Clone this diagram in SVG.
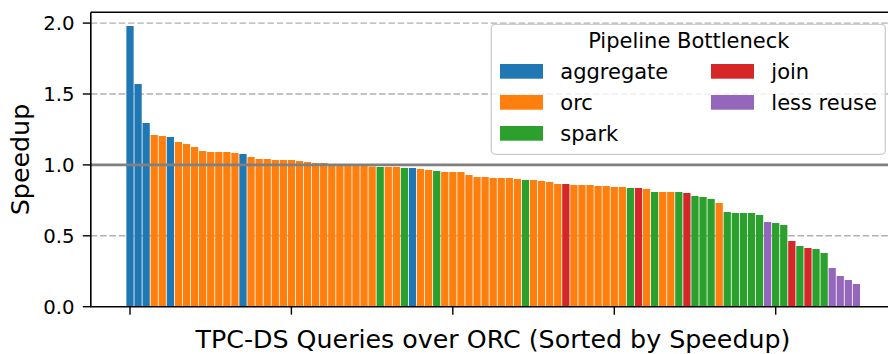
<svg xmlns="http://www.w3.org/2000/svg" width="888" height="354" viewBox="0 0 888 354">
  <style>
    text { font-family: "DejaVu Sans", "Liberation Sans", sans-serif; fill: #000; }
    .tick { font-size: 19.7px; }
    .lab { font-size: 25.3px; }
    .leg { font-size: 21px; }
    .grid { stroke: #b0b0b0; stroke-width: 1.4; stroke-dasharray: 6.5 2.8; fill: none; }
    .spine { stroke: #000; stroke-width: 1.6; fill: none; }
    .tk { stroke: #000; stroke-width: 1.4; }
    .agg { fill: #1f77b4; }
    .orc { fill: #ff7f0e; }
    .spark { fill: #2ca02c; }
    .join { fill: #d62728; }
    .less { fill: #9467bd; }
  </style>

  <rect x="0" y="0" width="888" height="354" fill="#fff"/>

  <!-- horizontal grid -->
  <g id="grid">
    <line class="grid" x1="90.8" y1="23.1" x2="888" y2="23.1"/>
    <line class="grid" x1="90.8" y1="94.0" x2="888" y2="94.0"/>
    <line class="grid" x1="90.8" y1="164.9" x2="888" y2="164.9"/>
    <line class="grid" x1="90.8" y1="235.8" x2="888" y2="235.8"/>
  </g>

  <!-- speedup bars, one per query, sorted -->
  <g id="bars">
    <rect class="agg" x="126.37" y="26" width="7.26" height="280.7"/>
    <rect class="agg" x="134.44" y="84" width="7.26" height="222.7"/>
    <rect class="agg" x="142.51" y="123" width="7.26" height="183.7"/>
    <rect class="orc" x="150.58" y="135" width="7.26" height="171.7"/>
    <rect class="orc" x="158.65" y="136" width="7.26" height="170.7"/>
    <rect class="agg" x="166.73" y="137" width="7.26" height="169.7"/>
    <rect class="orc" x="174.80" y="142" width="7.26" height="164.7"/>
    <rect class="orc" x="182.87" y="144" width="7.26" height="162.7"/>
    <rect class="orc" x="190.94" y="147" width="7.26" height="159.7"/>
    <rect class="orc" x="199.01" y="151" width="7.26" height="155.7"/>
    <rect class="orc" x="207.08" y="152" width="7.26" height="154.7"/>
    <rect class="orc" x="215.15" y="152" width="7.26" height="154.7"/>
    <rect class="orc" x="223.22" y="152" width="7.26" height="154.7"/>
    <rect class="orc" x="231.29" y="153" width="7.26" height="153.7"/>
    <rect class="agg" x="239.36" y="154" width="7.26" height="152.7"/>
    <rect class="orc" x="247.44" y="157" width="7.26" height="149.7"/>
    <rect class="orc" x="255.51" y="159" width="7.26" height="147.7"/>
    <rect class="orc" x="263.58" y="159" width="7.26" height="147.7"/>
    <rect class="orc" x="271.65" y="160" width="7.26" height="146.7"/>
    <rect class="orc" x="279.72" y="160" width="7.26" height="146.7"/>
    <rect class="orc" x="287.79" y="160" width="7.26" height="146.7"/>
    <rect class="orc" x="295.86" y="161" width="7.26" height="145.7"/>
    <rect class="orc" x="303.93" y="162" width="7.26" height="144.7"/>
    <rect class="orc" x="312.00" y="163" width="7.26" height="143.7"/>
    <rect class="orc" x="320.07" y="163" width="7.26" height="143.7"/>
    <rect class="orc" x="328.15" y="164" width="7.26" height="142.7"/>
    <rect class="orc" x="336.22" y="164.5" width="7.26" height="142.2"/>
    <rect class="orc" x="344.29" y="165" width="7.26" height="141.7"/>
    <rect class="orc" x="352.36" y="165.5" width="7.26" height="141.2"/>
    <rect class="orc" x="360.43" y="166" width="7.26" height="140.7"/>
    <rect class="orc" x="368.50" y="166.5" width="7.26" height="140.2"/>
    <rect class="spark" x="376.57" y="167" width="7.26" height="139.7"/>
    <rect class="orc" x="384.64" y="167" width="7.26" height="139.7"/>
    <rect class="orc" x="392.71" y="167" width="7.26" height="139.7"/>
    <rect class="spark" x="400.78" y="168" width="7.26" height="138.7"/>
    <rect class="agg" x="408.86" y="168" width="7.26" height="138.7"/>
    <rect class="orc" x="416.93" y="169" width="7.26" height="137.7"/>
    <rect class="orc" x="425.00" y="170" width="7.26" height="136.7"/>
    <rect class="spark" x="433.07" y="171" width="7.26" height="135.7"/>
    <rect class="orc" x="441.14" y="172" width="7.26" height="134.7"/>
    <rect class="orc" x="449.21" y="172" width="7.26" height="134.7"/>
    <rect class="orc" x="457.28" y="172" width="7.26" height="134.7"/>
    <rect class="orc" x="465.35" y="175" width="7.26" height="131.7"/>
    <rect class="orc" x="473.42" y="177" width="7.26" height="129.7"/>
    <rect class="orc" x="481.49" y="177" width="7.26" height="129.7"/>
    <rect class="orc" x="489.57" y="178" width="7.26" height="128.7"/>
    <rect class="orc" x="497.64" y="178" width="7.26" height="128.7"/>
    <rect class="orc" x="505.71" y="178" width="7.26" height="128.7"/>
    <rect class="orc" x="513.78" y="179" width="7.26" height="127.7"/>
    <rect class="spark" x="521.85" y="180" width="7.26" height="126.7"/>
    <rect class="orc" x="529.92" y="180" width="7.26" height="126.7"/>
    <rect class="orc" x="537.99" y="181" width="7.26" height="125.7"/>
    <rect class="orc" x="546.06" y="182" width="7.26" height="124.7"/>
    <rect class="orc" x="554.13" y="184" width="7.26" height="122.7"/>
    <rect class="join" x="562.20" y="184" width="7.26" height="122.7"/>
    <rect class="orc" x="570.28" y="185" width="7.26" height="121.7"/>
    <rect class="orc" x="578.35" y="185" width="7.26" height="121.7"/>
    <rect class="orc" x="586.42" y="185" width="7.26" height="121.7"/>
    <rect class="orc" x="594.49" y="186" width="7.26" height="120.7"/>
    <rect class="orc" x="602.56" y="186" width="7.26" height="120.7"/>
    <rect class="orc" x="610.63" y="187" width="7.26" height="119.7"/>
    <rect class="orc" x="618.70" y="187" width="7.26" height="119.7"/>
    <rect class="spark" x="626.77" y="188" width="7.26" height="118.7"/>
    <rect class="join" x="634.84" y="188" width="7.26" height="118.7"/>
    <rect class="orc" x="642.91" y="189" width="7.26" height="117.7"/>
    <rect class="spark" x="650.99" y="192" width="7.26" height="114.7"/>
    <rect class="orc" x="659.06" y="192" width="7.26" height="114.7"/>
    <rect class="orc" x="667.13" y="192" width="7.26" height="114.7"/>
    <rect class="spark" x="675.20" y="192" width="7.26" height="114.7"/>
    <rect class="join" x="683.27" y="193" width="7.26" height="113.7"/>
    <rect class="spark" x="691.34" y="196" width="7.26" height="110.7"/>
    <rect class="spark" x="699.41" y="197" width="7.26" height="109.7"/>
    <rect class="spark" x="707.48" y="199" width="7.26" height="107.7"/>
    <rect class="orc" x="715.55" y="203" width="7.26" height="103.7"/>
    <rect class="spark" x="723.62" y="212" width="7.26" height="94.7"/>
    <rect class="spark" x="731.70" y="213" width="7.26" height="93.7"/>
    <rect class="spark" x="739.77" y="213" width="7.26" height="93.7"/>
    <rect class="spark" x="747.84" y="213" width="7.26" height="93.7"/>
    <rect class="spark" x="755.91" y="215" width="7.26" height="91.7"/>
    <rect class="less" x="763.98" y="222" width="7.26" height="84.7"/>
    <rect class="spark" x="772.05" y="223" width="7.26" height="83.7"/>
    <rect class="spark" x="780.12" y="225" width="7.26" height="81.7"/>
    <rect class="join" x="788.19" y="241" width="7.26" height="65.7"/>
    <rect class="spark" x="796.26" y="246" width="7.26" height="60.7"/>
    <rect class="join" x="804.33" y="248" width="7.26" height="58.7"/>
    <rect class="spark" x="812.41" y="249" width="7.26" height="57.7"/>
    <rect class="spark" x="820.48" y="253" width="7.26" height="53.7"/>
    <rect class="less" x="828.55" y="268" width="7.26" height="38.7"/>
    <rect class="less" x="836.62" y="276" width="7.26" height="30.7"/>
    <rect class="less" x="844.69" y="280" width="7.26" height="26.7"/>
    <rect class="less" x="852.76" y="284" width="7.26" height="22.7"/>
  </g>

  <!-- baseline speedup of 1.0 -->
  <line id="unity" x1="90.8" y1="164.9" x2="888" y2="164.9" stroke="#808080" stroke-width="2.8"/>

  <!-- axes frame -->
  <g id="axes">
    <path class="spine" d="M90.8,12.3 H888 M90.8,12.3 V306.7 H888"/>
    <g class="tk">
      <line x1="82.8" y1="306.7" x2="90.8" y2="306.7"/>
      <line x1="82.8" y1="235.8" x2="90.8" y2="235.8"/>
      <line x1="82.8" y1="164.9" x2="90.8" y2="164.9"/>
      <line x1="82.8" y1="94.0" x2="90.8" y2="94.0"/>
      <line x1="82.8" y1="23.1" x2="90.8" y2="23.1"/>
      <line x1="130.0" y1="306.7" x2="130.0" y2="314.7"/>
      <line x1="291.4" y1="306.7" x2="291.4" y2="314.7"/>
      <line x1="452.8" y1="306.7" x2="452.8" y2="314.7"/>
      <line x1="614.3" y1="306.7" x2="614.3" y2="314.7"/>
      <line x1="775.7" y1="306.7" x2="775.7" y2="314.7"/>
    </g>
    <g class="tick" text-anchor="end">
      <text x="74.5" y="313.9">0.0</text>
      <text x="74.5" y="243.0">0.5</text>
      <text x="74.5" y="172.1">1.0</text>
      <text x="74.5" y="101.2">1.5</text>
      <text x="74.5" y="30.3">2.0</text>
    </g>
    <text class="lab" text-anchor="middle" transform="translate(28.5,159.5) rotate(-90)">Speedup</text>
    <text class="lab" x="493" y="347.5" text-anchor="middle">TPC-DS Queries over ORC (Sorted by Speedup)</text>
  </g>

  <!-- legend -->
  <g id="legend">
    <rect x="491.3" y="24.3" width="394" height="130" rx="4" fill="#fff" fill-opacity="0.8" stroke="#cccccc" stroke-width="1.3"/>
    <text class="leg" x="688.8" y="48.3" text-anchor="middle">Pipeline Bottleneck</text>
    <rect class="agg" x="500" y="64" width="43" height="14.7"/>
    <text class="leg" x="560.3" y="79">aggregate</text>
    <rect class="orc" x="500" y="95" width="43" height="14.7"/>
    <text class="leg" x="560.3" y="110">orc</text>
    <rect class="spark" x="500" y="126" width="43" height="14.7"/>
    <text class="leg" x="560.3" y="141">spark</text>
    <rect class="join" x="711" y="64" width="43" height="14.7"/>
    <text class="leg" x="771.3" y="79">join</text>
    <rect class="less" x="711" y="95" width="43" height="14.7"/>
    <text class="leg" x="771.3" y="110">less reuse</text>
  </g>
</svg>
